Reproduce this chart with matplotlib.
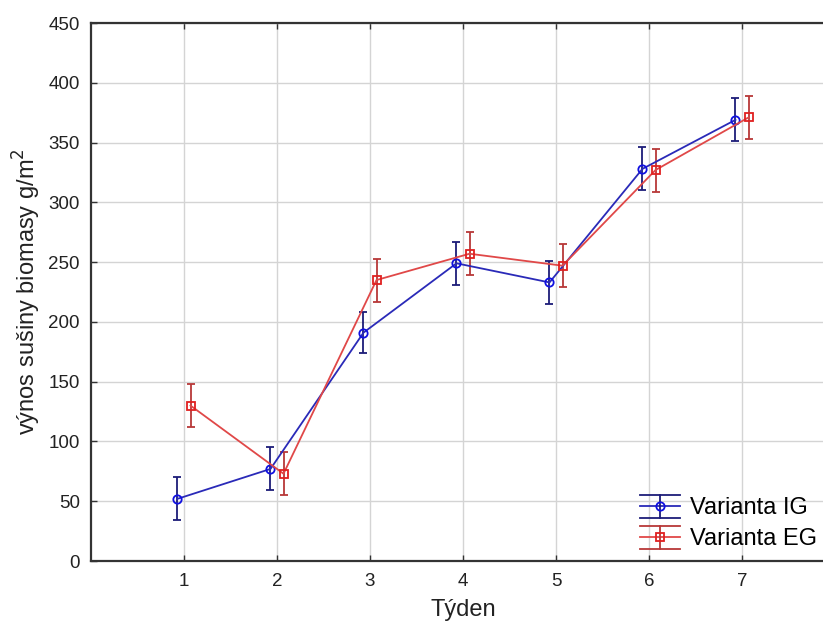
import numpy as np
import matplotlib
matplotlib.use("Agg")
import matplotlib.pyplot as plt
from matplotlib.legend_handler import HandlerBase
from matplotlib.lines import Line2D

plt.rcParams['font.family'] = ['Liberation Sans', 'DejaVu Sans']

# data
weeks = [1, 2, 3, 4, 5, 6, 7]
ig_mean = [52, 77, 191, 249, 233, 328, 369]
ig_err = [18, 18, 17, 18, 18, 18, 18]
eg_mean = [130, 73, 235, 257, 247, 327, 371]
eg_err = [18, 18, 18, 18, 18, 18, 18]
labels = ['Varianta IG', 'Varianta EG']

ig_style = dict(color='#2a2ab8', ecolor='#1c1c78', marker='o', mec='#1010e0')
eg_style = dict(color='#e04848', ecolor='#b83838', marker='s', mec='#e02020')


class ErrHandler(HandlerBase):
    # legend key like the reference: line, vertical bar, full-width caps
    def create_artists(self, legend, orig, xd, yd, w, h, fs, trans):
        st = orig.st
        x0, x1 = -xd, -xd + w
        xc = (x0 + x1) / 2
        yc = h / 2 - yd
        e = h * 0.7
        arts = [
            Line2D([x0, x1], [yc, yc], color=st['color'], lw=1.3),
            Line2D([x0, x1], [yc + e, yc + e], color=st['ecolor'], lw=1.3),
            Line2D([x0, x1], [yc - e, yc - e], color=st['ecolor'], lw=1.3),
            Line2D([xc, xc], [yc - e, yc + e], color=st['ecolor'], lw=1.3),
            Line2D([xc], [yc], marker=st['marker'], ms=6, mfc='none',
                   mec=st['mec'], mew=1.3, ls='none'),
        ]
        for a in arts:
            a.set_transform(trans)
        return arts


fig = plt.figure(figsize=(8.23, 6.29), dpi=100)
# right edge of the axes runs past the figure, as in the reference
ax = fig.add_axes([91 / 823, 1 - 561 / 629, (835 - 91) / 823, (561 - 23) / 629])

x = np.array(weeks)
off = 0.07
handles = []
for xs, m, e, st in [(x - off, ig_mean, ig_err, ig_style), (x + off, eg_mean, eg_err, eg_style)]:
    ax.errorbar(xs, m, yerr=e, color=st['color'], ecolor=st['ecolor'],
                marker=st['marker'], markersize=6, markerfacecolor='none',
                markeredgecolor=st['mec'], markeredgewidth=1.3, lw=1.3,
                elinewidth=1.3, capsize=3, capthick=1.3, zorder=3)
    h = Line2D([], [])
    h.st = st
    handles.append(h)

ax.set_xlim(0, 8)
ax.set_ylim(0, 450)
ax.set_xticks(weeks)
ax.set_yticks(np.arange(0, 451, 50))
ax.grid(True, color='#d4d4d4', lw=1)
ax.set_axisbelow(True)

for s in ['left', 'top', 'bottom']:
    ax.spines[s].set_color('#333333')
    ax.spines[s].set_linewidth(1.6)
ax.spines['right'].set_visible(False)

ax.tick_params(direction='in', top=True, length=4, width=1, colors='#333333',
               labelsize=13.5, labelcolor='#222222')
ax.tick_params(axis='y', pad=8)
ax.tick_params(axis='x', pad=9)

ax.set_xlabel('Týden', fontsize=17, color='#222222', labelpad=6)
ax.set_ylabel('výnos sušiny biomasy g/m$^2$', fontsize=17, color='#222222', labelpad=4)

ax.legend(handles, labels, handler_map={Line2D: ErrHandler()},
          loc='lower left', bbox_to_anchor=(640 / 823, 0.125),
          bbox_transform=fig.transFigure, frameon=False, fontsize=17,
          handlelength=1.7, handletextpad=0.42, labelspacing=0.38,
          borderpad=0, borderaxespad=0)

fig.savefig('out.png', dpi=100)
